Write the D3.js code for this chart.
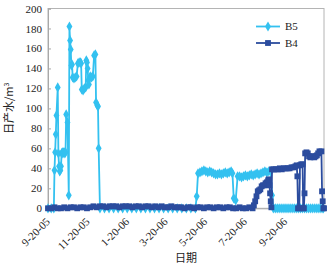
<!DOCTYPE html>
<html>
<head>
<meta charset="utf-8">
<script src="https://cdn.jsdelivr.net/npm/d3@7"></script>
<style>
    body { margin: 0; background: #fff; }
    svg text { font-family: "Liberation Serif", "DejaVu Serif", serif; fill: #222; }
    .cjk { font-family: "Noto Sans CJK SC", sans-serif !important; }
</style>
</head>
<body>
<div id="chart"></div>
<script>
'use strict';

// B5 daily water (date, m3)
var b5Data = [
    ['2005-09-15', 0], ['2005-09-20', 0], ['2005-09-24', 0], ['2005-09-25', 38], ['2005-09-26', 56],
    ['2005-09-27', 74], ['2005-09-28', 93], ['2005-09-30', 121], ['2005-10-01', 55], ['2005-10-02', 42],
    ['2005-10-03', 37], ['2005-10-04', 38], ['2005-10-05', 42], ['2005-10-06', 55], ['2005-10-07', 56],
    ['2005-10-08', 55], ['2005-10-09', 56], ['2005-10-10', 56], ['2005-10-11', 55], ['2005-10-12', 56],
    ['2005-10-13', 94], ['2005-10-15', 86], ['2005-10-17', 13], ['2005-10-18', 182], ['2005-10-19', 168],
    ['2005-10-20', 159], ['2005-10-21', 143], ['2005-10-22', 144], ['2005-10-23', 131], ['2005-10-25', 130],
    ['2005-10-27', 131], ['2005-10-29', 132], ['2005-10-31', 145], ['2005-11-02', 146], ['2005-11-04', 146],
    ['2005-11-05', 145], ['2005-11-06', 119], ['2005-11-08', 118], ['2005-11-10', 120], ['2005-11-12', 121],
    ['2005-11-13', 148], ['2005-11-14', 146], ['2005-11-15', 140], ['2005-11-16', 128], ['2005-11-17', 124],
    ['2005-11-19', 132], ['2005-11-21', 131], ['2005-11-23', 132], ['2005-11-25', 153], ['2005-11-27', 154],
    ['2005-11-28', 106], ['2005-11-30', 103], ['2005-12-01', 102], ['2005-12-02', 60], ['2005-12-04', 0],
    ['2005-12-11', 0], ['2005-12-18', 0], ['2005-12-25', 0], ['2006-01-01', 0], ['2006-01-08', 0],
    ['2006-01-15', 0], ['2006-01-22', 0], ['2006-01-29', 0], ['2006-02-05', 0], ['2006-02-12', 0],
    ['2006-02-19', 0], ['2006-02-26', 0], ['2006-03-05', 0], ['2006-03-12', 0], ['2006-03-19', 0],
    ['2006-03-26', 0], ['2006-04-02', 0], ['2006-04-09', 0], ['2006-04-16', 0], ['2006-04-23', 0],
    ['2006-04-30', 0], ['2006-05-02', 12], ['2006-05-04', 35], ['2006-05-07', 36], ['2006-05-10', 37],
    ['2006-05-13', 38], ['2006-05-16', 37], ['2006-05-19', 36], ['2006-05-22', 37], ['2006-05-25', 36],
    ['2006-05-28', 35], ['2006-05-31', 34], ['2006-06-03', 34], ['2006-06-06', 35], ['2006-06-09', 34],
    ['2006-06-12', 35], ['2006-06-15', 36], ['2006-06-18', 35], ['2006-06-21', 36], ['2006-06-24', 37],
    ['2006-06-26', 35], ['2006-06-28', 10], ['2006-07-01', 8], ['2006-07-04', 32], ['2006-07-07', 32],
    ['2006-07-10', 31], ['2006-07-13', 32], ['2006-07-16', 33], ['2006-07-19', 32], ['2006-07-22', 33],
    ['2006-07-25', 34], ['2006-07-28', 33], ['2006-07-31', 34], ['2006-08-03', 35], ['2006-08-06', 34],
    ['2006-08-09', 35], ['2006-08-12', 36], ['2006-08-15', 37], ['2006-08-18', 36], ['2006-08-21', 37],
    ['2006-08-24', 37], ['2006-08-26', 13], ['2006-08-28', 0], ['2006-08-31', 0], ['2006-09-03', 0],
    ['2006-09-06', 0], ['2006-09-09', 0], ['2006-09-12', 0], ['2006-09-15', 0], ['2006-09-18', 0],
    ['2006-09-21', 0], ['2006-09-24', 0], ['2006-09-27', 0], ['2006-09-30', 0], ['2006-10-03', 0],
    ['2006-10-06', 0], ['2006-10-09', 0], ['2006-10-12', 0], ['2006-10-15', 0], ['2006-10-18', 0],
    ['2006-10-21', 0], ['2006-10-24', 0], ['2006-10-27', 0], ['2006-10-30', 0], ['2006-11-02', 0],
    ['2006-11-05', 0], ['2006-11-08', 0], ['2006-11-11', 0], ['2006-11-13', 0]
];

// B4 daily water (date, m3)
var b4Data = [
    ['2005-09-15', 0], ['2005-09-20', 0], ['2005-09-25', 1], ['2005-09-30', 0], ['2005-10-05', 0],
    ['2005-10-10', 1], ['2005-10-15', 0], ['2005-10-20', 1], ['2005-10-25', 1], ['2005-10-30', 0],
    ['2005-11-04', 1], ['2005-11-09', 1], ['2005-11-14', 0], ['2005-11-19', 1], ['2005-11-24', 2],
    ['2005-11-29', 1], ['2005-12-04', 2], ['2005-12-09', 2], ['2005-12-14', 1], ['2005-12-19', 2],
    ['2005-12-24', 2], ['2005-12-29', 2], ['2006-01-03', 1], ['2006-01-08', 2], ['2006-01-13', 2],
    ['2006-01-18', 2], ['2006-01-23', 1], ['2006-01-28', 2], ['2006-02-02', 2], ['2006-02-07', 1],
    ['2006-02-12', 2], ['2006-02-17', 2], ['2006-02-22', 1], ['2006-02-27', 2], ['2006-03-04', 1],
    ['2006-03-09', 2], ['2006-03-14', 1], ['2006-03-19', 1], ['2006-03-24', 2], ['2006-03-29', 1],
    ['2006-04-03', 1], ['2006-04-08', 1], ['2006-04-13', 0], ['2006-04-18', 1], ['2006-04-23', 1],
    ['2006-04-28', 0], ['2006-05-03', 1], ['2006-05-08', 1], ['2006-05-13', 0], ['2006-05-18', 1],
    ['2006-05-23', 1], ['2006-05-28', 0], ['2006-06-02', 1], ['2006-06-07', 1], ['2006-06-12', 0],
    ['2006-06-17', 1], ['2006-06-22', 1], ['2006-06-27', 0], ['2006-07-02', 0], ['2006-07-07', 1],
    ['2006-07-12', 0], ['2006-07-17', 0], ['2006-07-22', 1], ['2006-07-27', 0], ['2006-07-29', 3],
    ['2006-07-31', 7], ['2006-08-02', 12], ['2006-08-04', 17], ['2006-08-06', 18], ['2006-08-08', 19],
    ['2006-08-10', 22], ['2006-08-12', 23], ['2006-08-14', 23], ['2006-08-16', 25], ['2006-08-18', 26],
    ['2006-08-20', 28], ['2006-08-21', 29], ['2006-08-22', 23], ['2006-08-23', 15], ['2006-08-24', 7],
    ['2006-08-25', 1], ['2006-08-26', 39], ['2006-08-29', 39], ['2006-09-01', 39], ['2006-09-04', 39],
    ['2006-09-07', 40], ['2006-09-10', 39], ['2006-09-13', 40], ['2006-09-16', 40], ['2006-09-19', 40],
    ['2006-09-22', 40], ['2006-09-25', 41], ['2006-09-28', 41], ['2006-10-01', 42], ['2006-10-03', 43],
    ['2006-10-04', 32], ['2006-10-05', 0], ['2006-10-07', 0], ['2006-10-08', 43], ['2006-10-10', 44],
    ['2006-10-12', 44], ['2006-10-13', 0], ['2006-10-14', 0], ['2006-10-15', 15], ['2006-10-16', 55],
    ['2006-10-18', 56], ['2006-10-20', 55], ['2006-10-22', 52], ['2006-10-24', 51], ['2006-10-26', 52],
    ['2006-10-28', 52], ['2006-10-30', 51], ['2006-11-01', 52], ['2006-11-03', 53], ['2006-11-05', 55],
    ['2006-11-07', 57], ['2006-11-10', 57], ['2006-11-11', 17], ['2006-11-12', 7], ['2006-11-13', 0],
    ['2006-11-14', 0]
];

var xTickLabels = ['9-20-05', '11-20-05', '1-20-06', '3-20-06', '5-20-06', '7-20-06', '9-20-06'];
var yTicks = [0, 20, 40, 60, 80, 100, 120, 140, 160, 180, 200];
var seriesNames = ['B5', 'B4'];
var seriesColors = ['#33c1f0', '#2b4c9e'];

var width = 333,
    height = 270,
    margin = {top: 8.5, right: 9, bottom: 61.7, left: 48},
    innerW = width - margin.left - margin.right,
    innerH = height - margin.top - margin.bottom;

var parseDay = d3.timeParse('%Y-%m-%d'),
    parseTick = d3.timeParse('%m-%d-%y');

var series = [b5Data, b4Data].map(function (rows, i) {
    return {
        name: seriesNames[i],
        color: seriesColors[i],
        values: rows.map(function (r) { return {date: parseDay(r[0]), value: r[1]}; })
    };
});

var x = d3.scaleTime()
    .domain([parseDay('2005-09-15'), parseDay('2006-11-14')])
    .range([0, innerW]);

var y = d3.scaleLinear()
    .domain([0, 200])
    .range([innerH, 0]);

var svg = d3.select('#chart').append('svg')
    .attr('width', width)
    .attr('height', height);

var vis = svg.append('g')
    .attr('transform', 'translate(' + margin.left + ',' + margin.top + ')');

// Plot frame
vis.append('rect')
    .attr('width', innerW)
    .attr('height', innerH)
    .attr('fill', 'none')
    .attr('stroke', '#b4b4b4')
    .attr('stroke-width', 1);

// Y axis, ticks point inwards
var yAxis = vis.append('g')
    .call(d3.axisLeft(y).tickValues(yTicks).tickSize(-3).tickPadding(6));
yAxis.select('.domain').attr('stroke', '#a8a8a8');
yAxis.selectAll('.tick line').attr('stroke', '#a8a8a8');
yAxis.selectAll('text').attr('font-size', 11);

// X axis with rotated date labels
var xAxis = vis.append('g')
    .attr('transform', 'translate(0,' + innerH + ')')
    .call(d3.axisBottom(x)
        .tickValues(xTickLabels.map(parseTick))
        .tickSize(0)
        .tickFormat(function (d, i) { return xTickLabels[i]; }));
xAxis.select('.domain').attr('stroke', '#a8a8a8');
xAxis.selectAll('text')
    .attr('font-size', 11)
    .attr('text-anchor', 'end')
    .attr('dy', null)
    .attr('y', null)
    .attr('transform', 'translate(-1,14) rotate(-45)');

var line = d3.line()
    .x(function (d) { return x(d.date); })
    .y(function (d) { return y(d.value); });

var diamond = d3.symbol().type(d3.symbolDiamond).size(30),
    square = d3.symbol().type(d3.symbolSquare).size(34);

series.forEach(function (s, i) {
    var g = vis.append('g');

    g.append('path')
        .datum(s.values)
        .attr('fill', 'none')
        .attr('stroke', s.color)
        .attr('stroke-width', 1.8)
        .attr('d', line);

    g.selectAll('.pt')
        .data(s.values)
        .enter().append('path')
        .attr('class', 'pt')
        .attr('transform', function (d) { return 'translate(' + x(d.date) + ',' + y(d.value) + ')'; })
        .attr('d', i === 0 ? diamond : square)
        .attr('fill', s.color);
});

// Legend
var legend = vis.selectAll('.legend')
    .data(series)
    .enter().append('g')
    .attr('class', 'legend')
    .attr('transform', function (d, i) { return 'translate(208,' + (18 + i * 16.5) + ')'; });

legend.append('line')
    .attr('x1', 0).attr('x2', 24)
    .attr('stroke', function (d) { return d.color; })
    .attr('stroke-width', 1.8);

legend.append('path')
    .attr('transform', 'translate(12,0)')
    .attr('d', function (d, i) { return i === 0 ? diamond() : square(); })
    .attr('fill', function (d) { return d.color; });

legend.append('text')
    .attr('x', 29)
    .attr('dy', '0.35em')
    .attr('font-size', 11)
    .text(function (d) { return d.name; });

// Axis titles
var yTitle = svg.append('text')
    .attr('class', 'cjk')
    .attr('transform', 'translate(13,' + (margin.top + innerH / 2) + ') rotate(-90)')
    .attr('text-anchor', 'middle')
    .attr('font-size', 11);
yTitle.append('tspan').text('日产水/m');
yTitle.append('tspan').attr('dy', -4).attr('font-size', 7).text('3');

svg.append('text')
    .attr('class', 'cjk')
    .attr('x', margin.left + innerW / 2)
    .attr('y', 262)
    .attr('text-anchor', 'middle')
    .attr('font-size', 11)
    .text('日期');
</script>
</body>
</html>
